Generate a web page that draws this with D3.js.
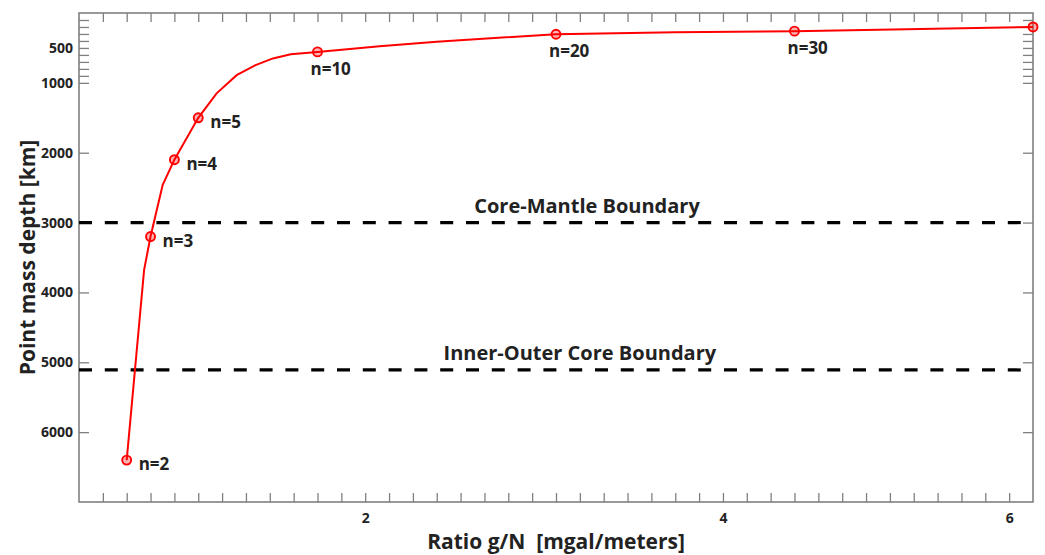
<!DOCTYPE html>
<html lang="en">
<head>
    <meta charset="UTF-8">
    <title>Point mass depth vs ratio g/N</title>
    <style>
        body { margin: 0; background: #fff; }
        text { font-family: "Open Sans", "DejaVu Sans", sans-serif; font-weight: bold; fill: #222; }
    </style>
</head>
<body>
<script src="https://cdn.jsdelivr.net/npm/d3@7/dist/d3.min.js"></script>
<script>
    // curve samples: degree n (x position) and depth in km
    const curveN     = [2, 2.73, 3, 3.51, 4, 5, 5.77, 6.61, 7.38, 8.13, 8.88, 10, 12.6, 15, 20, 25, 30, 40];
    const curveDepth = [6400, 3676, 3200, 2460, 2100, 1500, 1150, 890, 750, 650, 590, 557, 476, 410, 304, 275, 260, 200];

    // marked degrees
    const markN     = [2, 3, 4, 5, 10, 20, 30, 40];
    const markDepth = [6400, 3200, 2100, 1500, 557, 304, 260, 200];
    const markText  = ["n=2", "n=3", "n=4", "n=5", "n=10", "n=20", "n=30", ""];

    // x axis: ticks every degree, ratio labels at some of them
    const xTickAt   = [12, 27, 39];
    const xTickText = ["2", "4", "6"];

    // y axis ticks
    const yMajor = [500, 1000, 2000, 3000, 4000, 5000, 6000];
    const yMinor = [100, 200, 300, 400, 600, 700, 800, 900];

    // boundaries
    const boundDepth = [3000, 5110];
    const boundText  = ["Core-Mantle Boundary", "Inner-Outer Core Boundary"];
    const boundLabelN = [21.3, 21.0];

    var margin = {top: 13, right: 12, bottom: 53, left: 79},
        width = 1045 - margin.left - margin.right,
        height = 555 - margin.top - margin.bottom;

    var xScale = d3.scaleLinear().domain([0, 40]).range([0, width]);
    var yScale = d3.scaleLinear().domain([0, 7000]).range([0, height]);

    var svg = d3.select("body").append("svg")
        .attr("width", width + margin.left + margin.right)
        .attr("height", height + margin.top + margin.bottom);
    var g = svg.append("g")
        .attr("transform", `translate(${margin.left},${margin.top})`);

    const xFmt = d => {
        const i = xTickAt.indexOf(d);
        return i >= 0 ? xTickText[i] : "";
    };
    const yFmt = d => yMajor.includes(d) ? d : "";
    const xVals = d3.range(1, 40);
    const yVals = yMinor.concat(yMajor).sort((a, b) => a - b);

    // axes on all four sides, ticks pointing inward
    var xBottom = g.append("g").attr("transform", `translate(0,${height})`)
        .call(d3.axisBottom(xScale).tickValues(xVals).tickSize(-9).tickPadding(11).tickFormat(xFmt));
    var xTop = g.append("g")
        .call(d3.axisTop(xScale).tickValues(xVals).tickSize(-9).tickFormat(""));
    var yLeft = g.append("g")
        .call(d3.axisLeft(yScale).tickValues(yVals).tickSize(-10).tickPadding(6).tickFormat(yFmt));
    var yRight = g.append("g").attr("transform", `translate(${width},0)`)
        .call(d3.axisRight(yScale).tickValues(yVals).tickSize(-10).tickFormat(""));

    [xBottom, xTop, yLeft, yRight].forEach(a => {
        a.select(".domain").remove();
        a.selectAll(".tick line").attr("stroke", "#808080").attr("stroke-width", 1.3);
        a.selectAll(".tick text").style("font-size", "14px").attr("fill", "#222");
    });

    g.append("rect")
        .attr("width", width).attr("height", height)
        .attr("fill", "none").attr("stroke", "#808080").attr("stroke-width", 1.6);

    // boundary lines
    g.append("g").selectAll("line")
        .data(boundDepth)
        .join("line")
            .attr("x1", 0).attr("x2", width)
            .attr("y1", d => yScale(d)).attr("y2", d => yScale(d))
            .attr("stroke", "#000").attr("stroke-width", 3.2)
            .attr("stroke-dasharray", "13,12.8");

    g.append("g").selectAll("text")
        .data(boundText)
        .join("text")
            .attr("x", (d, i) => xScale(boundLabelN[i]))
            .attr("y", (d, i) => yScale(boundDepth[i]) - 10)
            .attr("text-anchor", "middle")
            .style("font-size", "20px")
            .text(d => d);

    // red curve
    const pts = curveN.map((n, i) => [n, curveDepth[i]]);
    g.append("path")
        .datum(pts)
        .attr("fill", "none")
        .attr("stroke", "#ff0000")
        .attr("stroke-width", 2)
        .attr("d", d3.line().x(d => xScale(d[0])).y(d => yScale(d[1])));

    const marks = markN.map((n, i) => ({n: n, depth: markDepth[i], text: markText[i]}));
    g.append("g").selectAll("circle")
        .data(marks)
        .join("circle")
            .attr("cx", d => xScale(d.n))
            .attr("cy", d => yScale(d.depth))
            .attr("r", 4.5)
            .attr("fill", "rgba(255,0,0,0.3)")
            .attr("stroke", "#ff0000")
            .attr("stroke-width", 1.9);

    g.append("g").selectAll("text")
        .data(marks)
        .join("text")
            .attr("x", d => d.n <= 5 ? xScale(d.n) + 12 : xScale(d.n) - 7)
            .attr("y", d => d.n <= 5 ? yScale(d.depth) + 10 : yScale(d.depth) + 23)
            .style("font-size", "17px")
            .text(d => d.text);

    // axis titles
    svg.append("text")
        .attr("x", margin.left + width / 2)
        .attr("y", 549)
        .attr("text-anchor", "middle")
        .style("font-size", "21px")
        .attr("xml:space", "preserve")
        .text("Ratio g/N  [mgal/meters]");

    svg.append("text")
        .attr("transform", `translate(35,${margin.top + height / 2}) rotate(-90)`)
        .attr("text-anchor", "middle")
        .style("font-size", "21px")
        .text("Point mass depth [km]");
</script>
</body>
</html>
